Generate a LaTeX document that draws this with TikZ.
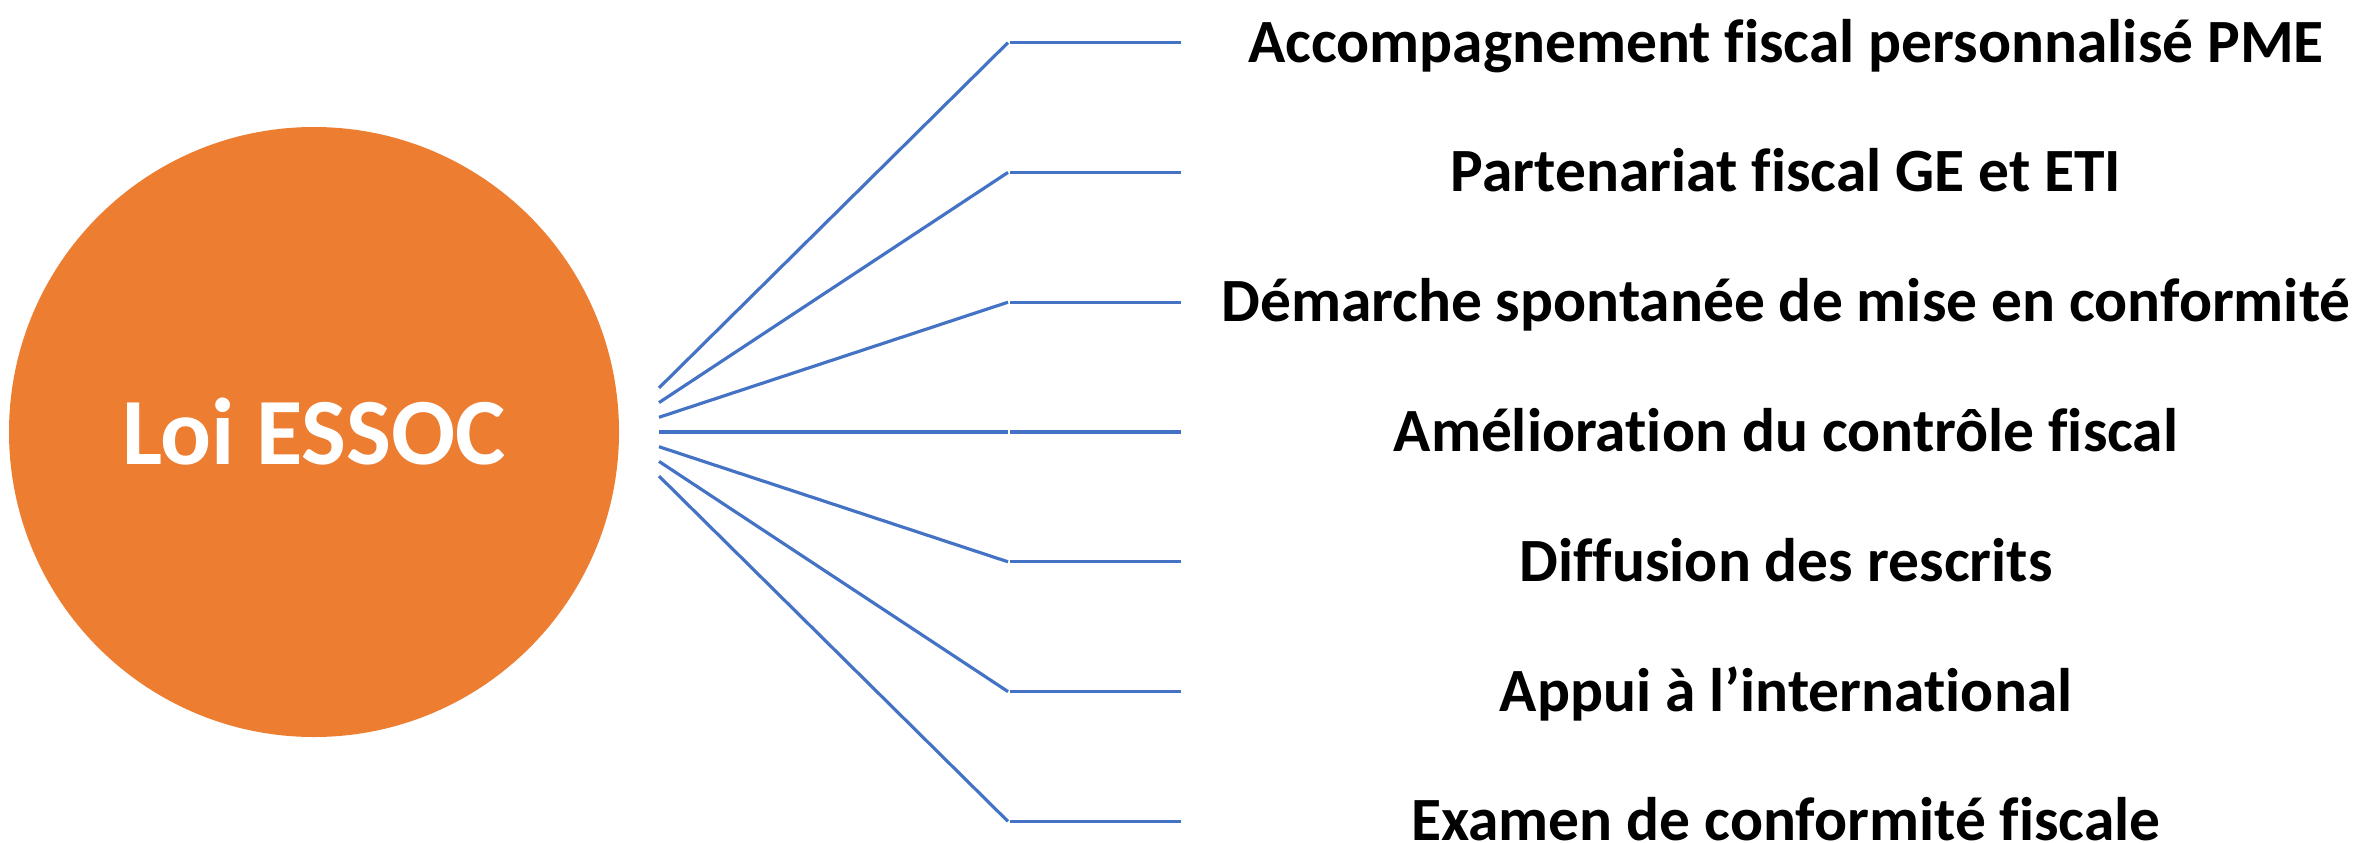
\documentclass[tikz,border=0pt]{standalone}
\usepackage{fontspec}
\setmainfont{Carlito}[Ligatures={TeX,NoCommon}]
\usetikzlibrary{positioning, calc}

\definecolor{essocorange}{HTML}{ED7D31}
\definecolor{essocblue}{HTML}{4472C4}

\begin{document}
\begin{tikzpicture}[
    hub/.style={circle, fill=essocorange, minimum size=6.1cm, inner sep=0pt, text=white, font=\fontsize{27}{30}\selectfont\bfseries},
    item/.style={anchor=base, font=\fontsize{17.5}{20}\selectfont\bfseries},
    link/.style={essocblue, line width=0.9pt}
    ]
    \useasboundingbox (0,0) rectangle (23.59,8.42);
    \node[hub] (essoc) at (3.14,4.10) {Loi ESSOC};

    \foreach \txt [count=\i from 0] in {Accompagnement fiscal personnalisé PME, Partenariat fiscal GE et ETI, Démarche spontanée de mise en conformité, Amélioration du contrôle fiscal, Diffusion des rescrits, Appui à l’international, Examen de conformité fiscale} {
        \coordinate (from\i) at ($(essoc.center)+(3.45,{-(\i-3)*0.147})$);
        \coordinate (bend\i) at (10.08,{4.10-(\i-3)*1.298});
        \coordinate (end\i) at (11.81,{4.10-(\i-3)*1.298});
        \node[item] (lbl\i) at ([yshift=-0.195cm]17.86,{4.10-(\i-3)*1.298}) {\txt};
        \draw[link] (from\i) -- (bend\i);
        \draw[link] ([xshift=0.02cm]bend\i) -- (end\i);
    }
\end{tikzpicture}
\end{document}
